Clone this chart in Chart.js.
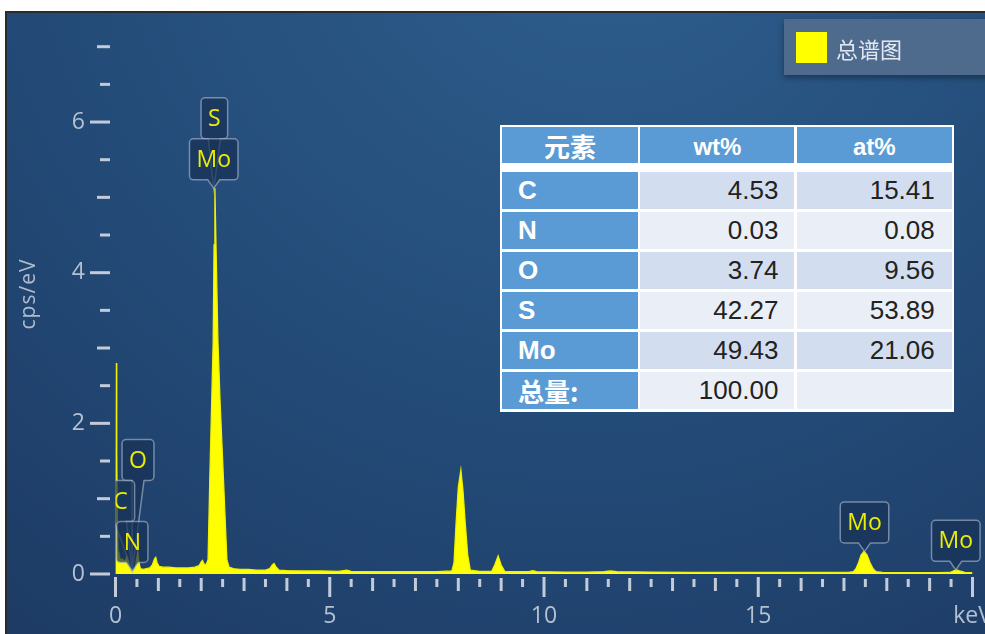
<!DOCTYPE html>
<html>
<head>
<meta charset="utf-8">
<script src="https://cdn.jsdelivr.net/npm/chart.js@4.4.1/dist/chart.umd.min.js"></script>
<style>
  html, body { margin: 0; padding: 0; background: #fff; }
  #wrap { position: relative; width: 985px; height: 634px; overflow: hidden; }
  #chart { position: absolute; left: 0; top: 0; }
  #legend {
    position: absolute; left: 784px; top: 19px; width: 230px; height: 56px;
    background: #4e6b8d; box-shadow: 0 3px 6px rgba(0, 0, 0, 0.35);
  }
  #legend .sw { position: absolute; left: 12px; top: 13px; width: 31px; height: 31px; background: #ffff00; }
  #legend .tx {
    position: absolute; left: 52px; top: 0; height: 58px;
    display: flex; align-items: center; line-height: 1;
    font: 22px "Noto Sans CJK SC", sans-serif; color: #e2e8ef;
  }
  #tbl {
    position: absolute; left: 499.5px; top: 125px; background: #fff;
    padding: 2.3px 2.5px 2.7px 2.5px;
    display: grid;
    grid-template-columns: 136px 154px 155px;
    grid-template-rows: 36px 3.4px repeat(6, 37.5px);
    column-gap: 2.4px; row-gap: 2.5px;
    font-family: "Liberation Sans", Arial, sans-serif;
  }
  #tbl div { display: flex; align-items: center; box-sizing: border-box; }
  #tbl .hd { background: #5b9bd5; color: #fff; font-weight: bold; font-size: 24px; justify-content: center; padding-top: 3px; }
  #tbl .hd.cjk { font-family: "Noto Sans CJK SC", sans-serif; font-size: 26px; padding-top: 0; }
  #tbl .sp { grid-column: 1 / 4; background: #fff; }
  #tbl .el { background: #5b9bd5; color: #fff; font-weight: bold; font-size: 26px; padding-left: 16px; }
  #tbl .el.cjk { font-family: "Noto Sans CJK SC", sans-serif; font-size: 26px; }
  #tbl .nv { color: #222; font-size: 26px; justify-content: flex-end; padding-right: 16px; }
  #tbl .nv.last { padding-right: 17px; }
  #tbl .dk { background: #d2deef; }
  #tbl .lt { background: #e9eef7; }
</style>
</head>
<body>
<div id="wrap">
  <canvas id="chart" width="985" height="634"></canvas>
  <div id="legend"><div class="sw"></div><div class="tx" id="legendText"></div></div>
  <div id="tbl"></div>
</div>
<script>
// EDS spectrum: energy (keV) and intensity (cps/eV)
const energyKeV = [
  0.000, 0.008, 0.016, 0.024, 0.034, 0.045, 0.060, 0.080, 0.100, 0.130,
  0.160, 0.200, 0.240, 0.270, 0.300, 0.330, 0.360, 0.390, 0.420, 0.460,
  0.500, 0.520, 0.545, 0.580, 0.650, 0.720, 0.800, 0.860, 0.910, 0.940,
  0.970, 1.020, 1.100, 1.250, 1.400, 1.550, 1.700, 1.850, 1.950, 2.000,
  2.030, 2.070, 2.110, 2.160, 2.200, 2.245, 2.280, 2.300, 2.320, 2.345,
  2.390, 2.440, 2.520, 2.600, 2.650, 2.750, 2.900, 3.100, 3.300, 3.500,
  3.600, 3.660, 3.700, 3.750, 3.820, 4.000, 4.400, 4.800, 5.200, 5.400,
  5.500, 6.000, 6.500, 7.000, 7.500, 7.850, 7.900, 7.950, 8.000, 8.060,
  8.110, 8.160, 8.220, 8.280, 8.500, 8.780, 8.850, 8.930, 9.000, 9.090,
  9.400, 9.650, 9.740, 9.830, 10.50, 11.00, 11.40, 11.55, 11.70, 12.50,
  13.50, 14.50, 15.50, 16.50, 17.10, 17.22, 17.28, 17.34, 17.40, 17.47,
  17.54, 17.61, 17.68, 17.75, 17.90, 18.50, 19.20, 19.47, 19.55, 19.62,
  19.70, 19.82, 20.00
];
const countsPerEv = [
  0.00, 1.40, 2.80, 2.25, 1.60, 0.60, 0.30, 0.26, 0.22, 0.18,
  0.20, 0.17, 0.19, 0.24, 0.20, 0.10, 0.04, 0.03, 0.04, 0.08,
  0.22, 0.30, 0.16, 0.07, 0.06, 0.07, 0.08, 0.12, 0.20, 0.22,
  0.15, 0.10, 0.09, 0.09, 0.08, 0.08, 0.08, 0.09, 0.11, 0.16,
  0.18, 0.13, 0.12, 0.19, 1.25, 2.30, 3.10, 4.37, 5.12, 4.37,
  3.10, 2.30, 1.25, 0.19, 0.09, 0.07, 0.06, 0.06, 0.05, 0.05,
  0.07, 0.12, 0.14, 0.09, 0.05, 0.045, 0.04, 0.04, 0.035, 0.05,
  0.035, 0.03, 0.03, 0.03, 0.03, 0.04, 0.15, 0.69, 1.15, 1.38,
  1.10, 0.69, 0.25, 0.05, 0.035, 0.035, 0.12, 0.24, 0.12, 0.03,
  0.03, 0.03, 0.045, 0.03, 0.025, 0.025, 0.03, 0.04, 0.03, 0.025,
  0.022, 0.02, 0.02, 0.02, 0.02, 0.03, 0.07, 0.15, 0.25, 0.30,
  0.25, 0.15, 0.07, 0.03, 0.02, 0.018, 0.018, 0.02, 0.04, 0.055,
  0.04, 0.02, 0.018
];
const seriesName = '总谱图';

// Axis labels
const xLabelValues = [0, 5, 10, 15, 20];
const xLabelTexts = ['0', '5', '10', '15', 'keV'];
const yLabelValues = [0, 2, 4, 6];
const yLabelTexts = ['0', '2', '4', '6'];
const yAxisTitle = 'cps/eV';

// Identified lines
const markerNames = ['N', 'C', 'O', 'Mo', 'S', 'Mo', 'Mo'];
const markerEnergies = [0.392, 0.277, 0.525, 2.293, 2.307, 17.48, 19.61];

// Quantification table
const tableHeader = ['元素', 'wt%', 'at%'];
const tableElements = ['C', 'N', 'O', 'S', 'Mo', '总量:'];
const wtPercent = ['4.53', '0.03', '3.74', '42.27', '49.43', '100.00'];
const atPercent = ['15.41', '0.08', '9.56', '53.89', '21.06', ''];

// ---- table + legend (HTML overlays) ----
const isCjk = s => /[\u4e00-\u9fff]/.test(s);
const tbl = document.getElementById('tbl');
tableHeader.forEach(h => {
  const d = document.createElement('div');
  d.className = 'hd' + (isCjk(h) ? ' cjk' : '');
  d.textContent = h;
  tbl.appendChild(d);
});
const spacer = document.createElement('div');
spacer.className = 'sp';
tbl.appendChild(spacer);
tableElements.forEach((el, i) => {
  const shade = i % 2 === 0 ? 'dk' : 'lt';
  const a = document.createElement('div');
  a.className = 'el' + (isCjk(el) ? ' cjk' : '');
  a.textContent = el;
  const b = document.createElement('div');
  b.className = 'nv ' + shade;
  b.textContent = wtPercent[i];
  const c = document.createElement('div');
  c.className = 'nv last ' + shade;
  c.textContent = atPercent[i];
  tbl.append(a, b, c);
});
document.getElementById('legendText').textContent = seriesName;

// ---- plugins ----
const panelBackground = {
  id: 'panelBackground',
  beforeDraw(chart) {
    const { ctx, width, height } = chart;
    ctx.save();
    ctx.fillStyle = '#ffffff';
    ctx.fillRect(0, 0, width, height);
    ctx.fillStyle = '#2b2b2b';
    ctx.fillRect(5, 11, width - 5, height - 11);
    const g = ctx.createRadialGradient(620, -120, 40, 560, -120, 1000);
    g.addColorStop(0, '#2e5e8d');
    g.addColorStop(0.55, '#234a77');
    g.addColorStop(1, '#1c3861');
    ctx.fillStyle = g;
    ctx.fillRect(7, 13, width - 7, height - 13);
    ctx.restore();
  }
};

const axisMarks = {
  id: 'axisMarks',
  afterDraw(chart) {
    const { ctx, chartArea, scales: { x, y } } = chart;
    const isMult = (v, m) => Math.abs(v / m - Math.round(v / m)) < 1e-6;
    ctx.save();
    ctx.fillStyle = '#c2cbd7';
    const yEnd = chartArea.left - 5.5;
    y.ticks.forEach(t => {
      const py = y.getPixelForValue(t.value);
      const len = yLabelValues.includes(t.value) ? 20 : (isMult(t.value, 1) ? 13 : 10);
      ctx.fillRect(yEnd - len, py - 1.5, len, 3);
    });
    x.ticks.forEach(t => {
      const px = x.getPixelForValue(t.value);
      let top, len;
      if (isMult(t.value, 5)) { top = 3; len = 20; }
      else if (isMult(t.value, 1)) { top = 4; len = 13; }
      else { top = 5; len = 8; }
      ctx.fillRect(px - 1.5, chartArea.bottom + top, 3, len);
    });
    // y axis title
    ctx.translate(29, 294.5);
    ctx.rotate(-Math.PI / 2);
    ctx.fillStyle = '#aebbcc';
    ctx.font = '21px "Open Sans"';
    ctx.textAlign = 'center';
    ctx.textBaseline = 'middle';
    if ('letterSpacing' in ctx) ctx.letterSpacing = '1px';
    ctx.fillText(yAxisTitle, 0.5, 0);
    ctx.restore();
  }
};

const lineMarkers = {
  id: 'lineMarkers',
  afterDatasetsDraw(chart, args, opts) {
    const { ctx, chartArea, scales: { x, y } } = chart;
    const pts = chart.data.datasets[0].data;
    const peakNear = e => {
      let m = 0;
      pts.forEach(p => { if (Math.abs(p.x - e) <= 0.05 && p.y > m) m = p.y; });
      return m;
    };
    ctx.save();
    ctx.beginPath();
    ctx.rect(chartArea.left, 0, chartArea.right - chartArea.left + 20, chartArea.bottom);
    ctx.clip();
    ctx.font = opts.font;
    ctx.textAlign = 'center';
    ctx.textBaseline = 'middle';
    opts.stacks.forEach(stack => {
      const anchor = stack[0];
      const tipX = x.getPixelForValue(markerEnergies[anchor]);
      const tipY = y.getPixelForValue(peakNear(markerEnergies[anchor]));
      // compute boxes bottom-up
      const boxes = [];
      let bottom = tipY - opts.gap;
      stack.forEach(idx => {
        const name = markerNames[idx];
        const w = Math.max(ctx.measureText(name).width + 2 * opts.pad, 24);
        const cx = x.getPixelForValue(markerEnergies[idx]) + (opts.shift[idx] || 0);
        boxes.push({ name, cx, w, top: bottom - opts.h, bottom });
        bottom -= opts.h;
      });
      // draw top-down so lower boxes sit over upper pointers
      boxes.slice().reverse().forEach(b => {
        const l = b.cx - b.w / 2, r = b.cx + b.w / 2, rad = 4;
        ctx.beginPath();
        ctx.moveTo(l + rad, b.top);
        ctx.lineTo(r - rad, b.top);
        ctx.arcTo(r, b.top, r, b.top + rad, rad);
        ctx.lineTo(r, b.bottom - rad);
        ctx.arcTo(r, b.bottom, r - rad, b.bottom, rad);
        ctx.lineTo(b.cx + 6, b.bottom);
        ctx.lineTo(tipX, tipY);
        ctx.lineTo(b.cx - 6, b.bottom);
        ctx.lineTo(l + rad, b.bottom);
        ctx.arcTo(l, b.bottom, l, b.bottom - rad, rad);
        ctx.lineTo(l, b.top + rad);
        ctx.arcTo(l, b.top, l + rad, b.top, rad);
        ctx.closePath();
        ctx.fillStyle = 'rgba(24, 50, 86, 0.72)';
        ctx.fill();
        ctx.strokeStyle = 'rgba(175, 190, 210, 0.6)';
        ctx.lineWidth = 1.5;
        ctx.stroke();
        ctx.fillStyle = '#eded00';
        ctx.fillText(b.name, b.cx, (b.top + b.bottom) / 2 + 1);
      });
    });
    ctx.restore();
  }
};

const labelFor = (values, texts) => v => {
  const i = values.findIndex(u => Math.abs(u - v) < 1e-6);
  return i >= 0 ? texts[i] : '';
};

new Chart(document.getElementById('chart'), {
  type: 'line',
  data: {
    datasets: [{
      label: seriesName,
      data: energyKeV.map((e, i) => ({ x: e, y: countsPerEv[i] })),
      borderColor: '#f2f200',
      backgroundColor: '#ffff00',
      borderWidth: 1.3,
      fill: 'origin',
      pointRadius: 0,
      tension: 0
    }]
  },
  options: {
    responsive: false,
    animation: false,
    devicePixelRatio: 1,
    layout: { padding: { left: 0, right: 12.5, top: 46.7, bottom: 0 } },
    plugins: {
      legend: { display: false },
      tooltip: { enabled: false },
      lineMarkers: {
        font: '23px "Open Sans"',
        pad: 7, h: 41, gap: 8.5,
        stacks: [[0, 1, 2], [3, 4], [5], [6]],
        shift: { 1: -7 }
      }
    },
    scales: {
      x: {
        type: 'linear', min: 0, max: 20,
        grid: { display: false, drawTicks: false },
        border: { display: false },
        ticks: {
          stepSize: 0.5, autoSkip: false, maxRotation: 0, minRotation: 0,
          padding: 29, color: '#b4c1d1',
          font: { family: 'Open Sans', size: 23 },
          callback: labelFor(xLabelValues, xLabelTexts)
        },
        afterFit(s) { s.height = 60; s.paddingLeft = 0; s.paddingRight = 0; }
      },
      y: {
        type: 'linear', min: 0, max: 7,
        grid: { display: false, drawTicks: false },
        border: { display: false },
        ticks: {
          stepSize: 0.5, autoSkip: false,
          padding: 30.5, color: '#b4c1d1',
          font: { family: 'Open Sans', size: 23 },
          callback: labelFor(yLabelValues, yLabelTexts)
        },
        afterFit(s) { s.width = 115.5; s.paddingTop = 0; s.paddingBottom = 0; }
      }
    }
  },
  plugins: [panelBackground, axisMarks, lineMarkers]
});
</script>
</body>
</html>
